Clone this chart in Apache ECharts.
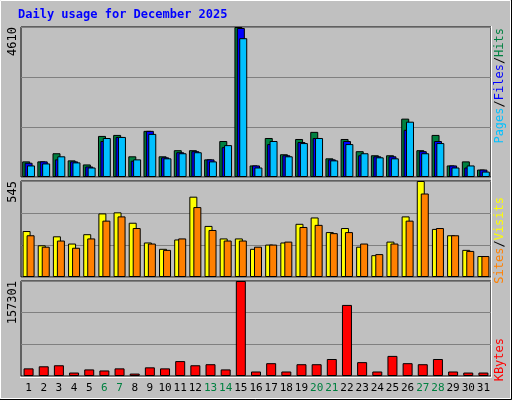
<!DOCTYPE html>
<html><head><meta charset="utf-8">
<script src="https://cdn.jsdelivr.net/npm/echarts@6/dist/echarts.min.js"></script>
<style>html,body{margin:0;padding:0;background:#c0c0c0}#c{width:512px;height:400px}</style>
</head><body><div id="c"></div>
<script>
const days = ['1','2','3','4','5','6','7','8','9','10','11','12','13','14','15','16','17','18','19','20','21','22','23','24','25','26','27','28','29','30','31'];
const weekend = ['6','7','13','14','20','21','27','28'];
const hits = [480,480,730,511,386,1262,1293,636,1418,636,824,824,542,1106,4610,355,1199,699,1168,1387,574,1168,793,668,668,1794,824,1293,355,480,229];
const files = [438,480,542,480,323,1106,1231,501,1418,605,761,793,542,918,4579,355,1012,668,1074,1199,542,1106,668,636,636,1450,793,1106,355,292,229];
const pages = [355,417,636,449,292,1199,1231,542,1325,574,730,761,480,980,4266,292,1106,636,1043,1199,511,1012,730,605,574,1700,730,1043,292,355,167];
const visits = [261,180,231,190,243,361,367,308,196,160,213,456,290,219,219,160,184,196,302,338,255,278,172,124,201,344,545,273,237,154,119];
const sites = [237,172,207,166,219,320,344,278,190,154,219,397,267,207,207,172,184,201,284,296,249,255,190,130,190,320,474,278,237,148,119];
const kbytes = [12628,16072,17794,5740,10906,9184,12628,4018,14350,12628,24682,17794,19516,10906,157301,7462,21238,7462,19516,19516,28126,117670,22960,7462,33292,21238,19516,28126,7462,5740,5740];
const maxHits = 4610, maxVisits = 545, maxKB = 157301;

const F = '"DejaVu Sans Mono", monospace';
const grids = [
  {left:21,right:21,top:27,height:150},
  {left:21,right:21,top:181,height:96},
  {left:21,right:21,top:281,height:95}
].map(g=>Object.assign(g,{show:true,backgroundColor:'#c0c0c0',borderColor:'#000',borderWidth:1}));
const maxes=[maxHits,maxVisits,maxKB];
const xAxis = grids.map((g,i)=>({type:'category',gridIndex:i,data:days,
  axisLine:{show:false},axisTick:{show:false},
  axisLabel:{show:i===2,interval:0,fontFamily:F,fontSize:11,margin:7,
    color:(v)=>weekend.includes(v)?'#008040':'#000'}}));
const yAxis = maxes.map((m,i)=>({type:'value',gridIndex:i,min:0,max:m,interval:m/3,
  axisLine:{show:false},axisTick:{show:false},
  splitLine:{lineStyle:{color:'#808080',width:1}},
  axisLabel:{rotate:90,align:'right',margin:2,fontFamily:F,fontSize:12,color:'#000',
    formatter:(v)=>Math.abs(v-m)<0.5?String(m):''}}));
const bs = {borderColor:'#000',borderWidth:1};
const series = [
  {type:'bar',xAxisIndex:0,yAxisIndex:0,data:hits,barWidth:8,barGap:'-70%',itemStyle:Object.assign({color:'#008040'},bs)},
  {type:'bar',xAxisIndex:0,yAxisIndex:0,data:files,barWidth:8,barGap:'-70%',itemStyle:Object.assign({color:'#0000ff'},bs)},
  {type:'bar',xAxisIndex:0,yAxisIndex:0,data:pages,barWidth:8,barGap:'-70%',itemStyle:Object.assign({color:'#00c0ff'},bs)},
  {type:'bar',xAxisIndex:1,yAxisIndex:1,data:visits,barWidth:8,barGap:'-50%',itemStyle:Object.assign({color:'#ffff00'},bs)},
  {type:'bar',xAxisIndex:1,yAxisIndex:1,data:sites,barWidth:8,barGap:'-50%',itemStyle:Object.assign({color:'#ff8000'},bs)},
  {type:'bar',xAxisIndex:2,yAxisIndex:2,data:kbytes,barWidth:10,itemStyle:Object.assign({color:'#ff0000'},bs)}
].map(s=>Object.assign(s,{animation:false,silent:true}));
const legendText=(parts,x,y)=>({type:'text',left:x,top:y,rotation:Math.PI/2,
  style:{text:parts.map((p,i)=>'{s'+i+'|'+p[0]+'}').join('{sl|/}'),font:'12px '+F,
    rich:Object.assign({sl:{fill:'#000',font:'12px '+F}},Object.fromEntries(parts.map((p,i)=>['s'+i,{fill:p[1],font:'12px '+F}])))}});
const chart = echarts.init(document.getElementById('c'));
chart.setOption({
  backgroundColor:'#c0c0c0',animation:false,
  grid:grids,xAxis,yAxis,series,
  graphic:[
    {type:'rect',shape:{x:0.5,y:0.5,width:510,height:398},style:{fill:null,stroke:'#fff',lineWidth:1},z:-1},
    {type:'polyline',shape:{points:[[511.5,0],[511.5,399.5],[0,399.5]]},style:{stroke:'#000',fill:null,lineWidth:1}},
    {type:'polyline',shape:{points:[[491.5,26],[491.5,377.5],[20,377.5]]},style:{stroke:'#fff',fill:null,lineWidth:1}},
    {type:'text',left:18,top:9,style:{text:'Daily usage for December 2025',fill:'#0000ff',font:'bold 12px '+F}},
    legendText([['Pages','#00c0ff'],['Files','#0000ff'],['Hits','#008040']],494,28),
    legendText([['Sites','#ff8000'],['Visits','#ffff00']],494,197),
    legendText([['KBytes','#ff0000']],494,338)
  ]
});
</script></body></html>
